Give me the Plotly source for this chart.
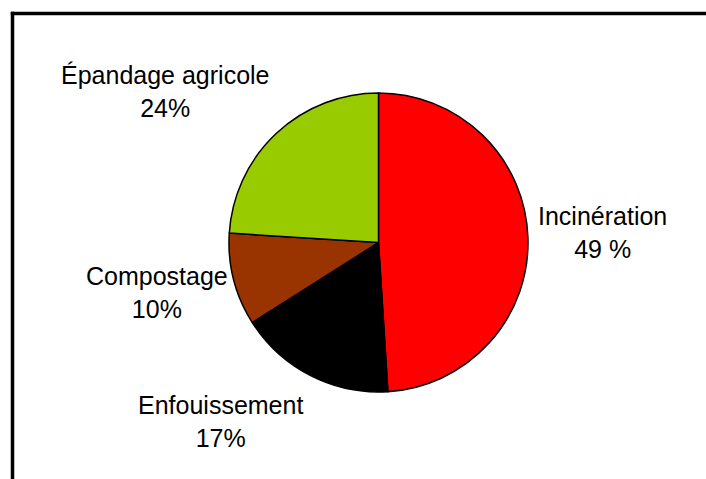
"""
Pie chart: destination of sludge (Incinération, Enfouissement, Compostage, Épandage agricole).
"""
import plotly.graph_objects as go

W, H = 706, 479

categories = ["Incinération", "Enfouissement", "Compostage", "Épandage agricole"]
values = [49, 17, 10, 24]
value_labels = ["49 %", "17%", "10%", "24%"]
colors = ["#FF0000", "#000000", "#993300", "#99CC00"]

# label centres in pixels (x from left, y from top)
label_px = [(602, 232), (221, 421), (157, 292), (165, 91)]

FONT = dict(family="Liberation Sans, Arial, sans-serif", size=25, color="#000000")


def px_x(x):
    return x / W


def px_y(y):
    return 1 - y / H


cx, cy, r = 378.5, 242.5, 149.5

fig = go.Figure()

fig.add_trace(go.Pie(
    labels=categories,
    values=values,
    sort=False,
    direction='clockwise',
    rotation=0,
    textinfo='none',
    hoverinfo='label+percent',
    marker=dict(colors=colors, line=dict(color="#000000", width=1.5)),
    domain=dict(x=[px_x(cx - r), px_x(cx + r)], y=[px_y(cy + r), px_y(cy - r)]),
    showlegend=False
))

for name, val, (lx, ly) in zip(categories, value_labels, label_px):
    fig.add_annotation(
        x=px_x(lx), y=px_y(ly), xref='paper', yref='paper',
        text=f"{name}<br>{val}",
        showarrow=False,
        font=FONT,
        align='center',
        xanchor='center', yanchor='middle'
    )

# chart frame: only the top and left edges show in the picture
frame = dict(color="#000000", width=3.5)
fig.add_shape(type='line', xref='paper', yref='paper',
              x0=px_x(12.5), x1=px_x(12.5), y0=0, y1=px_y(11.75), line=frame)
fig.add_shape(type='line', xref='paper', yref='paper',
              x0=px_x(10.75), x1=1, y0=px_y(13.5), y1=px_y(13.5), line=frame)

fig.update_layout(
    width=W,
    height=H,
    margin=dict(l=0, r=0, t=0, b=0),
    paper_bgcolor="#FFFFFF",
    plot_bgcolor="#FFFFFF",
    font=FONT
)

fig.write_html(
    "out.html",
    config={'displayModeBar': False},
    post_script="document.body.style.margin='0';"
)
